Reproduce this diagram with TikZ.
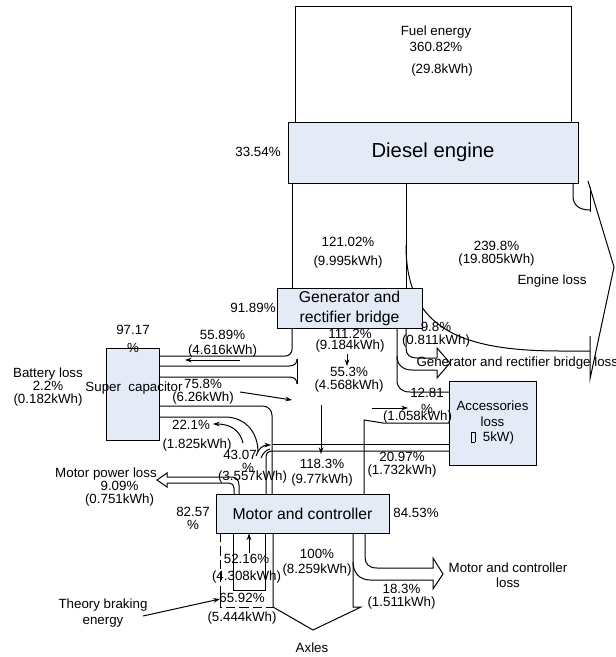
\documentclass[tikz,border=0pt]{standalone}
\usepackage{fontspec}
\setmainfont{Liberation Sans}
\usetikzlibrary{arrows.meta}

\definecolor{boxfill}{RGB}{228,235,247}
\tikzset{every picture/.style={line width=0.75pt}}
\tikzset{
  box/.style={draw, fill=boxfill, inner sep=0pt, align=center, font=\fontsize{11.8}{15}\selectfont},
  lbl/.style={inner sep=0.75pt, align=center, font=\fontsize{10}{10}\selectfont},
  flow/.style={-{Stealth[length=5pt,width=3.5pt]}},
}

\begin{document}
\begin{tikzpicture}[x=0.75pt,y=0.75pt,yscale=-1,xscale=1]
\path[use as bounding box] (0,0) rectangle (615,657);

%Fuel energy frame
\draw (295,122) -- (295,6) -- (571,6) -- (571,122);

%Band diesel -> generator
\draw (292,183) -- (292,288);
\draw (406,183) -- (406,288);
%Engine loss band
\draw (406,245) .. controls (406,325) and (455,351) .. (560,351) -- (590,351);
\draw (573,183) -- (573,196) .. controls (573,205) and (579,210) .. (590,210);
%Engine loss head
\draw (588,181) -- (614,267) -- (590,379) -- (590,336);
\draw (590,187) -- (590,212);

%Generator -> super capacitor
\draw[rounded corners=5] (292,328) -- (292,356) -- (159,356);
%Flat tail band
\draw (159,366) -- (289,366) .. controls (295,366) and (297,363) .. (297,359);
\draw (159,377) -- (289,377) .. controls (295,377) and (297,380) .. (297,384);
\draw (297,359) -- (297,384);

%Generator and rectifier bridge loss
\draw (406,328) -- (406,348) .. controls (406,355) and (410,358) .. (417,358) -- (437,358);
\draw (397,328) -- (397,380) .. controls (397,388) and (402,392) .. (410,392) -- (449,392);
\draw (397,356) .. controls (397,365) and (403,370) .. (412,370) -- (437,370);
\draw (437,358) -- (437,348) -- (450,363) -- (437,378) -- (437,370);

%Accessories <-> motor
\draw (364,494) -- (364,420) -- (383,423) -- (449,423);
\draw (449,444) -- (272,444);
\draw (449,451) -- (271,451) .. controls (268,451) and (266,453) .. (266,458) -- (266,494);

%Super capacitor -> motor
\draw[rounded corners=7] (159,406) -- (272,406) -- (272,494);
\draw (159,417) -- (225,417) .. controls (245,417) and (258,432) .. (258,452);

%Motor power loss
\draw (167,477) -- (232,477) .. controls (236,477) and (239,480) .. (239,485) -- (239,494);
\draw (167,483) -- (229,483) .. controls (232,483) and (234,485) .. (234,488) -- (234,494);
\draw (167,477) -- (167,473) -- (157,480) -- (167,487) -- (167,483);

%Below motor
\draw[dash pattern=on 7pt off 3pt] (220,533) -- (220,607) -- (273,607);
\draw (233,533) -- (233,590) -- (265,590) -- (265,533);
%Axles
\draw (273,533) -- (273,607) -- (313,630) -- (361,607) -- (353,607) -- (353,533);
%Motor and controller loss
\draw (365,533) -- (365,557) .. controls (365,564) and (369,568) .. (377,568) -- (433,568) -- (433,558) -- (443,574) -- (433,589) -- (433,580) -- (370,580) .. controls (360,580) and (353,573) .. (353,562);

%Boxes
\node[box, minimum width=217.5pt, minimum height=45.75pt, font=\fontsize{15.2}{18}\selectfont] (diesel) at (433,152.5) {Diesel engine};
\node[box, minimum width=108.75pt, minimum height=30pt] (gen) at (349.5,308) {Generator and\\rectifier bridge};
\node[box, minimum width=39.75pt, minimum height=69pt] (supercap) at (132.5,394) {};
\node[box, minimum width=65.25pt, minimum height=63pt, font=\fontsize{10}{11.6}\selectfont] (acc) at (492.5,423) {Accessories\\loss\\{\setlength{\fboxsep}{0pt}\fbox{\rule{0pt}{7pt}\hspace{2.5pt}}}\ \ 5kW)};
\node[box, minimum width=129.75pt, minimum height=29.25pt] (motor) at (302.5,513.5) {Motor and controller};

% Text Node
\node[lbl] (fuel) at (436,39) {Fuel energy\\[2pt]360.82\%};
\node[lbl] (fuelkwh) at (442,70) {(29.8kWh)};
\node[lbl] (p3354) at (258,152) {33.54\%};
\node[lbl] (p12102) at (348,252.5) {121.02\%\\[4pt](9.995kWh)};
\node[lbl] (p2398) at (496.5,253.5) {239.8\%\\(19.805kWh)};
\node[lbl] (engloss) at (552,281) {Engine loss};
\node[lbl] (p9189) at (253,308) {91.89\%};
\node[lbl] (p98) at (436,335) {9.8\%\\(0.811kWh)};
\node[lbl, anchor=west] (genloss) at (415,363) {Generator and rectifier bridge loss};
\node[lbl] (p1112) at (350,341) {111.2\%\\[-1.5pt](9.184kWh)};
\node[lbl] (p553) at (349,380) {55.3\%\\(4.568kWh)};
\node[lbl] (p9717) at (133,339) {97.17\\[3.5pt]\%};
\node[lbl] (p5589) at (222.5,343.5) {55.89\%\\[1.25pt](4.616kWh)};
\node[lbl] (batloss) at (48,387) {Battery loss\\2.2\%\\(0.182kWh)};
\node[lbl] (sclabel) at (134,388) {Super\ \ capacitor};
\node[lbl] (p758) at (203,391.5) {75.8\%\\(6.26kWh)};
\node[lbl] (p221) at (191,425) {22.1\%};
\node[lbl] (p221kwh) at (197,445) {(1.825kWh)};
\node[lbl] (p4307) at (240,455) {43.07};
\node[lbl] (p4307b) at (248,468) {\%};
\node[lbl] (p4307kwh) at (252.5,477) {(3.557kWh)};
\node[lbl] (mploss) at (106,474) {Motor power loss};
\node[lbl] (p909) at (119.5,493.5) {9.09\%\\(0.751kWh)};
\node[lbl] (p8257) at (193,518.5) {82.57\\\%};
\node[lbl] (p1281) at (427,401) {12.81\\[2pt]\%};
\node[lbl] (p1281kwh) at (417.5,417) {(1.058kWh)};
\node[lbl] (p1183) at (322,472.5) {118.3\%\\[1.25pt](9.77kWh)};
\node[lbl] (p2097) at (402,465) {20.97\%\\(1.732kWh)};
\node[lbl] (p8453) at (416,513) {84.53\%};
\node[lbl] (p5216) at (246.5,568.5) {52.16\%\\[2.75pt](4.308kWh)};
\node[lbl] (p6592) at (242,608.5) {65.92\%\\[4.25pt](5.444kWh)};
\node[lbl] (braking) at (103,613) {Theory braking\\[2pt]energy};
\node[lbl] (p100) at (317,562.5) {100\%\\[1.25pt](8.259kWh)};
\node[lbl] (mcloss) at (508,575.5) {Motor and controller\\[1.25pt]loss};
\node[lbl] (p183) at (401.5,596.5) {18.3\%\\(1.511kWh)};
\node[lbl] (axles) at (312,648) {Axles};

%Arrows
\coordinate (a1) at (240,360);
\coordinate (a2) at (240,392);
\coordinate (a3) at (372,408);
\coordinate (a4) at (321,405);
\coordinate (a5) at (249,553);
\coordinate (a6) at (143,616);
\draw[flow] (a1) -- (185,360);
\draw[flow] (a2) -- (292,400);
\draw[flow] (a3) -- (408,408);
\draw[flow] (347,354) -- (347,366);
\draw[flow] (a4) -- (321,454);
\draw[flow] (a5) -- (motor.south -| a5);
\draw[flow] (a6) -- (220,599);
\draw[flow] (243,443) .. controls (240,430) and (230,424) .. (213,424);
\draw[flow] (256,456) .. controls (258,449) and (263,445) .. (271,445);
\draw (261,458) .. controls (263,453) and (266,450) .. (270,449);

\end{tikzpicture}
\end{document}
